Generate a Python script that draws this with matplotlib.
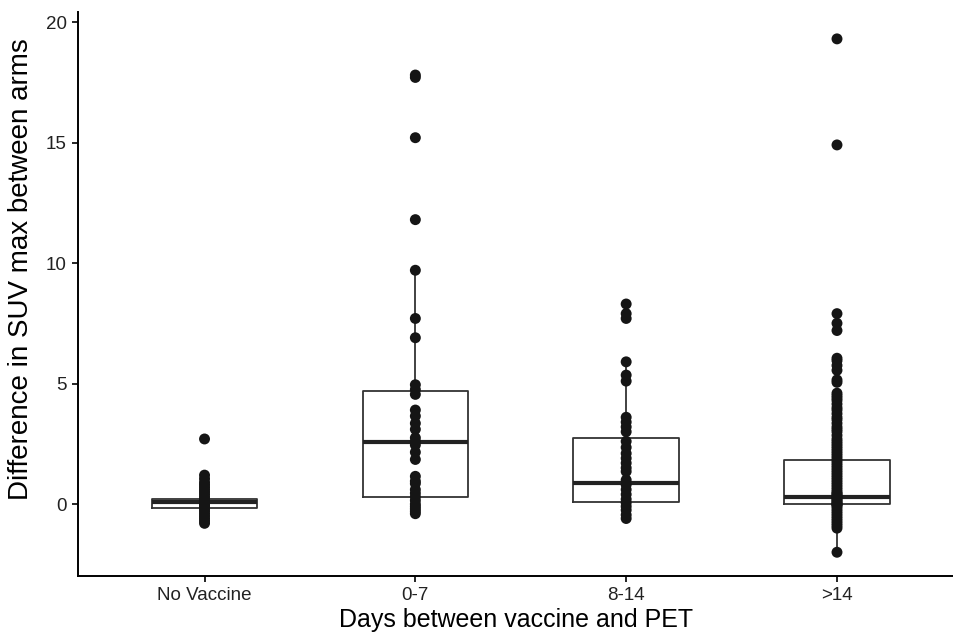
import matplotlib
matplotlib.use("Agg")
import matplotlib.pyplot as plt

groups = ["No Vaccine", "0-7", "8-14", ">14"]

# box summaries
q1 = [-0.18, 0.29, 0.08, 0.0]
med = [0.10, 2.57, 0.87, 0.30]
q3 = [0.19, 4.69, 2.74, 1.83]
whis_lo = [-0.70, -0.40, -0.60, -2.0]
whis_hi = [0.70, 9.70, 5.90, 4.50]

# individual observations per group
pts_none = [2.7, 1.2, 1.05, 0.9, 0.8, 0.7, 0.6, 0.5, 0.4, 0.3, 0.2, 0.15,
            0.1, 0.05, 0.0, -0.05, -0.1, -0.15, -0.2, -0.3, -0.4, -0.5,
            -0.6, -0.7, -0.8]
pts_0_7 = [17.8, 17.7, 15.2, 11.8, 9.7, 7.7, 6.9, 4.95, 4.75, 4.55, 3.9,
           3.65, 3.35, 3.1, 2.75, 2.6, 2.45, 2.15, 1.85, 1.15, 0.95, 0.85,
           0.6, 0.45, 0.3, 0.15, 0.0, -0.1, -0.2, -0.3, -0.4]
pts_8_14 = [8.3, 7.9, 7.7, 5.9, 5.35, 5.1, 3.6, 3.4, 3.2, 3.0, 2.6, 2.35,
            2.1, 1.9, 1.7, 1.5, 1.35, 1.0, 0.8, 0.6, 0.4, 0.2, 0.05, -0.1,
            -0.25, -0.45, -0.6]
pts_gt14 = [19.3, 14.9, 7.9, 7.5, 7.2, 6.05, 5.95, 5.75, 5.55, 5.15, 5.05,
            4.6, 4.5, 4.4, 4.3, 4.15, 4.0, 3.9, 3.75, 3.6, 3.5, 3.35, 3.2,
            3.1, 3.0, 2.85, 2.7, 2.6, 2.5, 2.4, 2.3, 2.2, 2.1, 2.0, 1.9,
            1.8, 1.7, 1.6, 1.5, 1.4, 1.3, 1.2, 1.1, 1.0, 0.9, 0.8, 0.7,
            0.6, 0.5, 0.45, 0.4, 0.35, 0.3, 0.25, 0.2, 0.15, 0.1, 0.05,
            0.0, 0.0, -0.05, -0.1, -0.2, -0.3, -0.4, -0.5, -0.6, -0.7,
            -0.8, -0.9, -1.0, -2.0]
points = [pts_none, pts_0_7, pts_8_14, pts_gt14]

yticks = [0, 5, 10, 15, 20]

plt.rcParams['font.family'] = ['Liberation Sans', 'DejaVu Sans']

fig = plt.figure(figsize=(9.54, 6.38), dpi=100)
ax = fig.add_axes([0.0818, 0.097, 0.9182, 0.884])

positions = list(range(1, len(groups) + 1))
stats = []
for i, g in enumerate(groups):
    stats.append({'label': g, 'q1': q1[i], 'med': med[i], 'q3': q3[i],
                  'whislo': whis_lo[i], 'whishi': whis_hi[i], 'fliers': []})

ax.bxp(stats, positions=positions, widths=0.5, showfliers=False,
       showcaps=False,
       boxprops=dict(color='#333333', linewidth=1.3),
       whiskerprops=dict(color='#333333', linewidth=1.3),
       medianprops=dict(color='#222222', linewidth=3.0))

for pos, vals in zip(positions, points):
    ax.scatter([pos] * len(vals), vals, s=62, color='#151515',
               edgecolors='none', zorder=3)

ax.set_xlim(0.4, 4.555)
ax.set_ylim(-2.99, 20.41)
ax.set_xticks(positions)
ax.set_xticklabels(groups)
ax.set_yticks(yticks)

for side in ['top', 'right']:
    ax.spines[side].set_visible(False)
for side in ['left', 'bottom']:
    ax.spines[side].set_linewidth(1.4)
    ax.spines[side].set_color('black')

ax.tick_params(axis='both', length=4, width=1.2, color='black',
               labelsize=13.5, labelcolor='#222222', pad=4)

ax.set_xlabel('Days between vaccine and PET', fontsize=18, labelpad=3)
ax.set_ylabel('Difference in SUV max between arms', fontsize=20)
ax.yaxis.set_label_coords(-0.05, 0.544)

fig.savefig('out.png', dpi=100)
